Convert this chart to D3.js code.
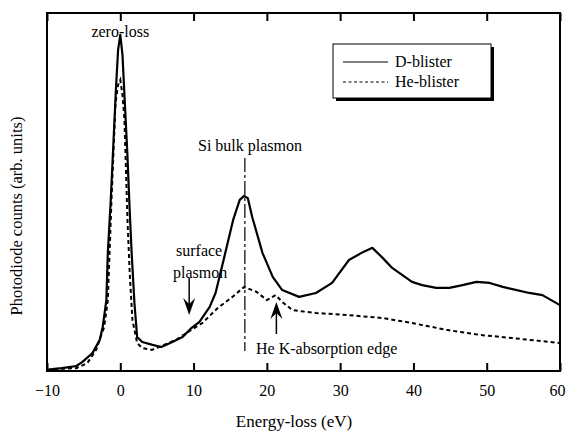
<!DOCTYPE html>
<html>
<head>
<meta charset="utf-8">
<script src="https://cdn.jsdelivr.net/npm/d3@7"></script>
<style>
  body { margin: 0; background: #fff; }
  svg { font-family: "Liberation Serif", "Times New Roman", serif; }
</style>
</head>
<body>
<svg width="566" height="432"></svg>
<script>
"use strict";

// energy-loss spectra, values (arb. units)
const dEnergy = [-10, -9, -8, -7, -6, -5.2, -3.8, -2.8, -2.4, -1.9, -1.7, -1.3, -1.0, -0.6, -0.3, 0,
  0.3, 0.6, 0.96, 1.25, 1.55, 1.93, 2.3, 3.0, 4.4, 5.6, 7.1, 8.5, 9.7, 10.8, 12.2, 13.0,
  14.0, 15.4, 16.3, 16.9, 17.4, 18.0, 19.4, 20.8, 22.1, 24.4, 26.7, 28.9, 31.2, 33.1,
  34.4, 35.8, 37.1, 38.5, 39.8, 41.2, 43.1, 44.9, 46.7, 48.6, 50.4, 52.2, 54.1, 55.8,
  57.6, 60];
const dCounts = [0.3, 0.6, 0.8, 1.1, 1.4, 2.5, 5.0, 8.7, 12.3, 19.8, 33.0, 47.8, 60.9, 78.5, 89.7, 93.9,
  88.3, 75.7, 60.9, 46.4, 33.0, 19.0, 9.5, 8.1, 7.3, 6.7, 8.1, 9.5, 12.0, 13.7, 17.9, 21.8,
  30.2, 42.2, 47.8, 48.9, 48.3, 43.0, 33.0, 26.3, 22.6, 20.7, 21.8, 24.6, 31.0, 33.2,
  34.4, 31.6, 28.8, 26.8, 24.9, 24.0, 23.2, 23.2, 24.0, 24.9, 24.6, 23.5, 22.6, 21.8,
  21.2, 18.4];

const heEnergy = [-10, -8, -6, -4.5, -3.3, -2.2, -1.7, -1.2, -0.65, -0.3, 0, 0.3, 0.57, 0.98,
  1.3, 1.66, 2.3, 3.0, 4.3, 5.3, 7.6, 9.7, 11.2, 13.3, 15.3, 16.9, 18.6, 20.0, 21.2, 22.1,
  23.5, 26.7, 31.2, 35.8, 39.8, 44.5, 49, 53.5, 60];
const heCounts = [0.3, 0.6, 0.8, 2.2, 5.9, 12.3, 19.8, 47.8, 74.9, 79.9, 81.3, 77.1, 70.1, 42.2,
  26.8, 14.2, 7.8, 6.4, 5.9, 6.7, 8.7, 11.5, 13.4, 17.6, 20.7, 23.5, 22.1, 19.8, 21.2, 19.3,
  17.0, 16.2, 15.6, 14.8, 13.4, 11.5, 10.1, 9.2, 7.8];

const xTicks = [-10, 0, 10, 20, 30, 40, 50, 60];
const seriesNames = ["D-blister", "He-blister"];

window.addEventListener("load", drawGraph);

function drawGraph() {
  const svg = d3.select("svg");
  const margin = { top: 13, right: 6, bottom: 61, left: 47 };
  const width = +svg.attr("width") - margin.left - margin.right;
  const height = +svg.attr("height") - margin.top - margin.bottom;

  const x = d3.scaleLinear().domain([-10, 60]).range([margin.left, margin.left + width]);
  const y = d3.scaleLinear().domain([0, 100]).range([margin.top + height, margin.top]);

  const line = d3.line().x((d) => x(d[0])).y((d) => y(d[1]));

  const dData = dEnergy.map((e, i) => [e, dCounts[i]]);
  const heData = heEnergy.map((e, i) => [e, heCounts[i]]);

  // dash-dot marker for the Si bulk plasmon
  svg.append("line")
    .attr("x1", x(17)).attr("x2", x(17))
    .attr("y1", 158).attr("y2", 351)
    .attr("stroke", "#000").attr("stroke-width", 1.2)
    .attr("stroke-dasharray", "14,3,3,3");

  svg.append("path")
    .datum(heData)
    .attr("d", line)
    .attr("fill", "none")
    .attr("stroke", "#000")
    .attr("stroke-width", 2)
    .attr("stroke-dasharray", "4,3");

  svg.append("path")
    .datum(dData)
    .attr("d", line)
    .attr("fill", "none")
    .attr("stroke", "#000")
    .attr("stroke-width", 2.2)
    .attr("stroke-linejoin", "round");

  // frame
  svg.append("rect")
    .attr("x", margin.left).attr("y", margin.top)
    .attr("width", width).attr("height", height)
    .attr("fill", "none").attr("stroke", "#000").attr("stroke-width", 2);

  // inward ticks, bottom and top
  svg.append("g")
    .attr("transform", `translate(0, ${margin.top + height})`)
    .call(d3.axisBottom(x).tickValues(xTicks).tickSizeInner(-8).tickSizeOuter(0).tickPadding(14))
    .call((g) => g.select(".domain").remove())
    .call((g) => g.selectAll("line").attr("stroke-width", 2))
    .selectAll("text")
    .style("font-size", "16px")
    .style("font-family", '"Liberation Serif", serif')
    // last label sits at the window edge, nudge it inside
    .attr("dx", (d) => (d === 60 ? -3 : 0));

  svg.append("g")
    .attr("transform", `translate(0, ${margin.top})`)
    .call(d3.axisTop(x).tickValues(xTicks).tickSizeInner(-8).tickSizeOuter(0).tickFormat(""))
    .call((g) => g.select(".domain").remove())
    .call((g) => g.selectAll("line").attr("stroke-width", 2));

  svg.append("text")
    .attr("x", 294).attr("y", 427)
    .attr("text-anchor", "middle")
    .style("font-size", "17px")
    .text("Energy-loss (eV)");

  svg.append("text")
    .attr("transform", "translate(22, 216) rotate(-90)")
    .attr("text-anchor", "middle")
    .style("font-size", "16.5px")
    .text("Photodiode counts (arb. units)");

  // annotations
  const note = (tx, ty, str, anchor) =>
    svg.append("text").attr("x", tx).attr("y", ty)
      .attr("text-anchor", anchor || "middle")
      .style("font-size", "16px").text(str);

  note(x(0), 37, "zero-loss");
  note(250, 151, "Si bulk plasmon");
  note(176, 256, "surface", "start");
  note(173, 278, "plasmon", "start");
  note(256, 354, "He K-absorption edge", "start");

  const arrow = (ax, y0, y1) => {
    const dir = y1 > y0 ? 1 : -1;
    svg.append("line")
      .attr("x1", ax).attr("x2", ax).attr("y1", y0).attr("y2", y1 - dir * 8)
      .attr("stroke", "#000").attr("stroke-width", 1.5);
    svg.append("path")
      .attr("d", `M${ax},${y1} L${ax - 6},${y1 - dir * 17} L${ax},${y1 - dir * 11} L${ax + 6},${y1 - dir * 17} Z`)
      .attr("fill", "#000");
  };
  arrow(x(9.4), 278, 315);
  arrow(x(21.3), 334, 302);

  // legend with drop shadow
  const lg = svg.append("g").attr("transform", "translate(333, 44)");
  lg.append("rect").attr("x", 3).attr("y", 3).attr("width", 158).attr("height", 54).attr("fill", "#000");
  lg.append("rect").attr("width", 158).attr("height", 54)
    .attr("fill", "#fff").attr("stroke", "#000").attr("stroke-width", 1);

  seriesNames.forEach((name, i) => {
    const ly = 18 + i * 20;
    lg.append("line")
      .attr("x1", 10).attr("x2", 55).attr("y1", ly).attr("y2", ly)
      .attr("stroke", "#000").attr("stroke-width", 1.2)
      .attr("stroke-dasharray", i === 0 ? null : "3,2.5");
    lg.append("text")
      .attr("x", 62).attr("y", ly + 5)
      .style("font-size", "16px")
      .text(name);
  });
}
</script>
</body>
</html>
